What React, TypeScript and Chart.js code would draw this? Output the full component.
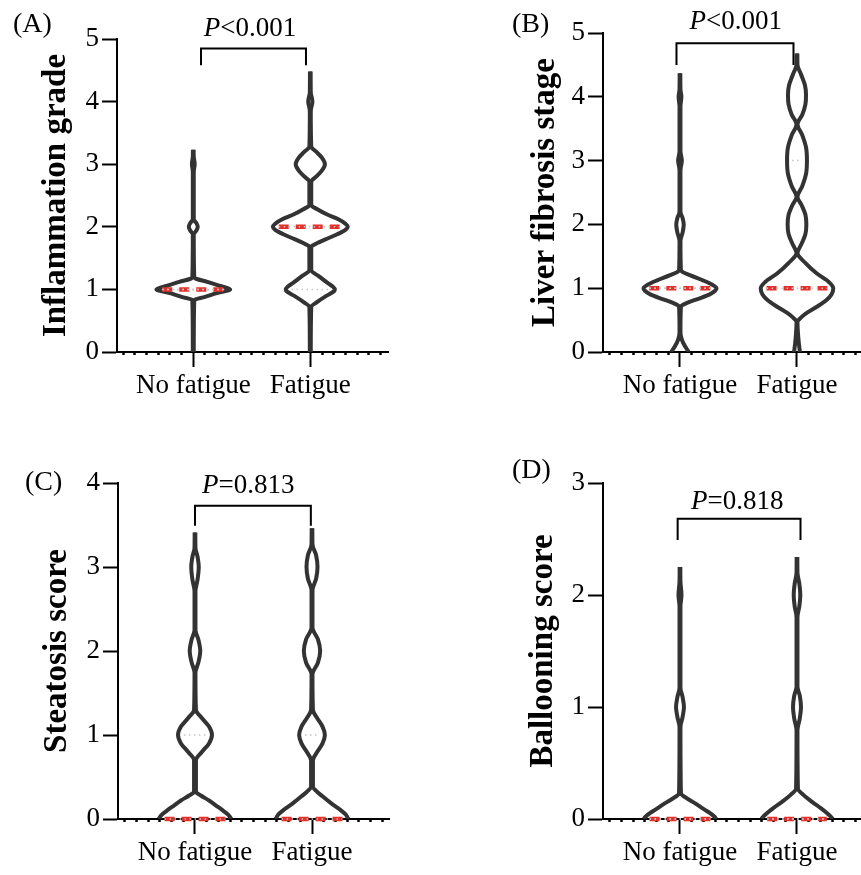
import React, { useEffect, useRef } from 'react';
import { Chart, registerables } from 'chart.js';

Chart.register(...registerables);

const SERIF = "'Liberation Serif', 'Times New Roman', serif";

// ---------- text / categories ----------
const CATEGORIES = ['No fatigue', 'Fatigue'];
const PANEL_LABELS = ['(A)', '(B)', '(C)', '(D)'];
const Y_TITLES = ['Inflammation grade', 'Liver fibrosis stage', 'Steatosis score', 'Ballooning score'];
const Y_MAX = [5, 5, 4, 3];
const P_LABELS = ['P<0.001', 'P<0.001', 'P=0.813', 'P=0.818'];

// ---------- violin profiles (y level, half width in category units) ----------
const A_NF_Y = [0, 0.83, 0.88, 0.94, 1.0, 1.05, 1.12, 1.19, 1.88, 1.94, 2.0, 2.06, 2.12, 2.88, 3.0, 3.12, 3.23];
const A_NF_W = [0.004, 0.008, 0.1, 0.2, 0.315, 0.24, 0.12, 0.008, 0.004, 0.026, 0.038, 0.026, 0.004, 0.004, 0.012, 0.004, 0.003];
const A_F_Y = [0, 0.72, 0.8, 0.9, 0.96, 1.0, 1.04, 1.1, 1.2, 1.31, 1.68, 1.74, 1.8, 1.88, 1.95, 2.0, 2.05, 2.12, 2.2, 2.28, 2.35, 2.72, 2.8, 2.9, 3.0, 3.1, 3.2, 3.28, 3.85, 4.0, 4.15, 4.48];
const A_F_W = [0.004, 0.008, 0.06, 0.14, 0.195, 0.21, 0.195, 0.15, 0.08, 0.008, 0.008, 0.06, 0.13, 0.23, 0.3, 0.32, 0.3, 0.24, 0.14, 0.06, 0.008, 0.008, 0.05, 0.1, 0.125, 0.1, 0.05, 0.008, 0.004, 0.018, 0.004, 0.003];

const B_NF_Y = [0, 0.07, 0.15, 0.25, 0.32, 0.71, 0.77, 0.83, 0.9, 0.96, 1.0, 1.05, 1.12, 1.2, 1.28, 1.74, 1.87, 2.0, 2.1, 2.2, 2.85, 3.0, 3.15, 3.85, 4.0, 4.12, 4.37];
const B_NF_W = [0.075, 0.05, 0.025, 0.008, 0.004, 0.008, 0.06, 0.15, 0.25, 0.3, 0.312, 0.28, 0.2, 0.09, 0.008, 0.004, 0.022, 0.032, 0.022, 0.004, 0.004, 0.016, 0.004, 0.004, 0.012, 0.004, 0.003];
const B_F_Y = [0, 0.15, 0.3, 0.47, 0.55, 0.62, 0.71, 0.81, 0.9, 1.0, 1.1, 1.23, 1.39, 1.55, 1.7, 1.85, 2.0, 2.15, 2.3, 2.43, 2.6, 2.8, 3.0, 3.2, 3.4, 3.57, 3.72, 3.88, 4.03, 4.18, 4.35, 4.5, 4.68];
const B_F_W = [0.025, 0.015, 0.008, 0.004, 0.04, 0.09, 0.17, 0.25, 0.295, 0.31, 0.27, 0.17, 0.075, 0.004, 0.04, 0.072, 0.08, 0.072, 0.04, 0.004, 0.045, 0.078, 0.085, 0.078, 0.045, 0.004, 0.045, 0.072, 0.077, 0.068, 0.035, 0.004, 0.003];

const C_NF_Y = [0, 0.05, 0.1, 0.16, 0.22, 0.28, 0.325, 0.7, 0.8, 0.9, 1.0, 1.1, 1.2, 1.3, 1.74, 1.87, 2.0, 2.13, 2.25, 2.71, 2.85, 3.0, 3.12, 3.23, 3.41];
const C_NF_W = [0.31, 0.285, 0.24, 0.18, 0.12, 0.05, 0.008, 0.008, 0.06, 0.12, 0.145, 0.12, 0.06, 0.008, 0.004, 0.03, 0.045, 0.03, 0.004, 0.004, 0.022, 0.032, 0.022, 0.004, 0.003];
const C_F_Y = [0, 0.05, 0.1, 0.18, 0.27, 0.33, 0.385, 0.7, 0.8, 0.9, 1.0, 1.1, 1.2, 1.3, 1.72, 1.86, 2.0, 2.14, 2.28, 2.72, 2.86, 3.0, 3.14, 3.27, 3.46];
const C_F_W = [0.31, 0.29, 0.25, 0.17, 0.09, 0.04, 0.008, 0.008, 0.045, 0.09, 0.11, 0.09, 0.045, 0.008, 0.004, 0.05, 0.07, 0.05, 0.004, 0.004, 0.035, 0.047, 0.035, 0.004, 0.003];

const D_NF_Y = [0, 0.02, 0.05, 0.09, 0.14, 0.19, 0.23, 0.82, 0.91, 1.0, 1.09, 1.17, 1.9, 2.0, 2.12, 2.25];
const D_NF_W = [0.31, 0.295, 0.26, 0.2, 0.13, 0.05, 0.008, 0.004, 0.022, 0.034, 0.022, 0.004, 0.004, 0.013, 0.004, 0.003];
const D_F_Y = [0, 0.02, 0.05, 0.1, 0.16, 0.22, 0.27, 0.79, 0.9, 1.0, 1.1, 1.18, 1.8, 1.9, 2.0, 2.1, 2.2, 2.34];
const D_F_W = [0.305, 0.29, 0.26, 0.2, 0.12, 0.05, 0.008, 0.004, 0.024, 0.034, 0.024, 0.004, 0.004, 0.02, 0.028, 0.02, 0.004, 0.003];

// ---------- quartiles [Q1, median, Q3] ----------
const A_NF_Q = [1, 1, 1];
const A_F_Q = [1, 2, 2];
const B_NF_Q = [1, 1, 1];
const B_F_Q = [1, 1, 3];
const C_NF_Q = [0, 0, 1];
const C_F_Q = [0, 0, 1];
const D_NF_Q = [0, 0, 0];
const D_F_Q = [0, 0, 0];

// ---------- significance brackets [xLeft, xRight, yLegEnd, yTop] and P text anchor [x, y] ----------
const BRACKETS = [
  [0.066, 0.963, 4.58, 4.85],
  [-0.03, 0.97, 4.5, 4.84],
  [0.0, 0.99, 3.49, 3.73],
  [-0.02, 1.03, 2.49, 2.68],
];
const P_ANCHORS = [
  [0.485, 5.05],
  [0.477, 5.06],
  [0.456, 3.88],
  [0.49, 2.77],
];

const VIOLINS = [
  [[A_NF_Y, A_NF_W, A_NF_Q], [A_F_Y, A_F_W, A_F_Q]],
  [[B_NF_Y, B_NF_W, B_NF_Q], [B_F_Y, B_F_W, B_F_Q]],
  [[C_NF_Y, C_NF_W, C_NF_Q], [C_F_Y, C_F_W, C_F_Q]],
  [[D_NF_Y, D_NF_W, D_NF_Q], [D_F_Y, D_F_W, D_F_Q]],
];

// ---------- layout (page pixels) ----------
const LAYOUT = [
  { left: 0, top: 0, w: 430, h: 437, area: [117, 39, 388, 352], xRange: [-0.652, 1.664], titleX: 56, labelXY: [13, 32] },
  { left: 430, top: 0, w: 431, h: 437, area: [603, 33, 861, 352], xRange: [-0.658, 1.547], titleX: 545, labelXY: [82, 32] },
  { left: 0, top: 437, w: 430, h: 438, area: [118, 483, 389, 819], xRange: [-0.658, 1.658], titleX: 57, labelXY: [25, 53] },
  { left: 430, top: 437, w: 431, h: 438, area: [603, 483, 861, 819], xRange: [-0.658, 1.547], titleX: 543, labelXY: [82, 41] },
];

const VIOLIN_COLOR = '#333333';
const MEDIAN_COLOR = '#e3302b';
const QUART_COLOR = '#c4c4c4';
const TICK_SIZE = 27;
const TITLE_SIZE = 33;

const isCat = (v: number) => Math.abs(v) < 1e-6 || Math.abs(v - 1) < 1e-6;

function sideDataset(c: number, ys: number[], ws: number[], sign: number) {
  return {
    data: ys.map((y, i) => ({ x: c + sign * ws[i], y })),
    borderColor: VIOLIN_COLOR,
    borderWidth: 4,
    pointRadius: 0,
    fill: false,
    cubicInterpolationMode: 'monotone',
    order: 5,
  };
}

function levelDataset(c: number, ys: number[], ws: number[], level: number, kind: 'median' | 'quart') {
  const idx = ys.indexOf(level);
  const hw = idx >= 0 ? ws[idx] : 0;
  const len = Math.max(hw - 0.05, hw * 0.5);
  const median = kind === 'median';
  return {
    data: [{ x: c - len, y: level }, { x: c + len, y: level }],
    borderColor: median ? MEDIAN_COLOR : QUART_COLOR,
    borderWidth: median ? 4.5 : 1.5,
    borderDash: median ? [10, 7] : [1.5, 3.5],
    pointRadius: 0,
    fill: false,
    tension: 0,
    clip: false,
    order: median ? 2 : 1,
  };
}

const textPlugin = {
  id: 'panelText',
  afterDraw(chart: any, _args: any, opts: any) {
    const { ctx } = chart;
    const xs = chart.scales.x;
    const ys = chart.scales.y;
    ctx.save();
    ctx.fillStyle = '#000';
    ctx.textBaseline = 'alphabetic';
    ctx.textAlign = 'left';
    ctx.font = `28px ${SERIF}`;
    ctx.fillText(opts.label, opts.labelXY[0], opts.labelXY[1]);
    const text: string = opts.p;
    const head = text.charAt(0);
    const tail = text.slice(1);
    const fItal = `italic ${TICK_SIZE}px ${SERIF}`;
    const fReg = `${TICK_SIZE}px ${SERIF}`;
    ctx.font = fItal;
    const w1 = ctx.measureText(head).width;
    ctx.font = fReg;
    const w2 = ctx.measureText(tail).width;
    const cx = xs.getPixelForValue(opts.anchor[0]);
    const by = ys.getPixelForValue(opts.anchor[1]);
    const sx = cx - (w1 + w2) / 2;
    ctx.font = fItal;
    ctx.fillText(head, sx, by);
    ctx.font = fReg;
    ctx.fillText(tail, sx + w1, by);
    ctx.restore();
  },
};

function buildConfig(idx: number): any {
  const L = LAYOUT[idx];
  const [al, at, ar, ab] = L.area;
  const padLeft = L.titleX - L.left - (TITLE_SIZE * 1.2) / 2;
  const yWidth = al - L.left - padLeft;
  const xHeight = L.top + L.h - ab;

  const datasets: any[] = [];
  VIOLINS[idx].forEach(([ys, ws, q]: any, ci: number) => {
    datasets.push(sideDataset(ci, ys, ws, 1));
    datasets.push(sideDataset(ci, ys, ws, -1));
    datasets.push(levelDataset(ci, ys, ws, q[1], 'median'));
    datasets.push(levelDataset(ci, ys, ws, q[0], 'quart'));
    datasets.push(levelDataset(ci, ys, ws, q[2], 'quart'));
  });
  const [bx0, bx1, byl, byt] = BRACKETS[idx];
  datasets.push({
    data: [
      { x: bx0, y: byl },
      { x: bx0, y: byt },
      { x: bx1, y: byt },
      { x: bx1, y: byl },
    ],
    borderColor: '#000',
    borderWidth: 2,
    pointRadius: 0,
    tension: 0,
    fill: false,
    clip: false,
    order: 0,
  });

  return {
    type: 'line',
    data: { datasets },
    plugins: [textPlugin],
    options: {
      responsive: false,
      animation: false,
      indexAxis: 'y',
      events: [],
      layout: {
        padding: { left: padLeft, top: at - L.top, right: L.left + L.w - ar, bottom: 0 },
      },
      plugins: {
        legend: { display: false },
        tooltip: { enabled: false },
        panelText: {
          label: PANEL_LABELS[idx],
          labelXY: L.labelXY,
          p: P_LABELS[idx],
          anchor: P_ANCHORS[idx],
        },
      },
      scales: {
        x: {
          type: 'linear',
          position: 'bottom',
          min: L.xRange[0],
          max: L.xRange[1],
          afterBuildTicks: (scale: any) => {
            const ticks: any[] = [];
            for (let k = Math.ceil(scale.min * 10 - 1e-9); k <= Math.floor(scale.max * 10 + 1e-9); k++) {
              ticks.push({ value: k / 10 });
            }
            scale.ticks = ticks;
          },
          afterFit: (scale: any) => {
            scale.height = xHeight;
          },
          border: { display: true, color: '#000', width: 2 },
          grid: {
            drawOnChartArea: false,
            drawTicks: true,
            tickLength: 15,
            tickColor: '#000',
            tickWidth: (ctx: any) => (ctx.tick && isCat(ctx.tick.value) ? 2 : 2.5),
            tickBorderDash: (ctx: any) => (ctx.tick && isCat(ctx.tick.value) ? [] : [2, 100]),
          },
          ticks: {
            autoSkip: false,
            maxRotation: 0,
            minRotation: 0,
            padding: 3,
            color: '#000',
            font: { family: SERIF, size: TICK_SIZE },
            callback: (v: number) => (Math.abs(v) < 1e-6 ? CATEGORIES[0] : Math.abs(v - 1) < 1e-6 ? CATEGORIES[1] : ''),
          },
        },
        y: {
          type: 'linear',
          position: 'left',
          min: 0,
          max: Y_MAX[idx],
          afterFit: (scale: any) => {
            scale.width = yWidth;
          },
          border: { display: true, color: '#000', width: 2 },
          grid: {
            drawOnChartArea: false,
            drawTicks: true,
            tickLength: 15,
            tickColor: '#000',
            tickWidth: 2,
          },
          ticks: {
            stepSize: 1,
            padding: 3,
            color: '#000',
            font: { family: SERIF, size: TICK_SIZE },
          },
          title: {
            display: true,
            text: Y_TITLES[idx],
            color: '#000',
            padding: 0,
            font: { family: SERIF, size: TITLE_SIZE, weight: 'bold', lineHeight: 1.2 },
          },
        },
      },
    },
  };
}

function Panel({ idx }: { idx: number }) {
  const ref = useRef<HTMLCanvasElement>(null);
  const L = LAYOUT[idx];
  useEffect(() => {
    if (!ref.current) return;
    const chart = new Chart(ref.current, buildConfig(idx));
    return () => chart.destroy();
  }, [idx]);
  return (
    <canvas
      ref={ref}
      width={L.w}
      height={L.h}
      style={{ position: 'absolute', left: L.left, top: L.top, width: L.w, height: L.h }}
    />
  );
}

export default function App() {
  return (
    <div
      style={{
        position: 'absolute',
        left: 0,
        top: 0,
        width: 861,
        height: 875,
        background: '#fff',
        overflow: 'hidden',
      }}
    >
      {LAYOUT.map((_, i) => (
        <Panel key={i} idx={i} />
      ))}
    </div>
  );
}
